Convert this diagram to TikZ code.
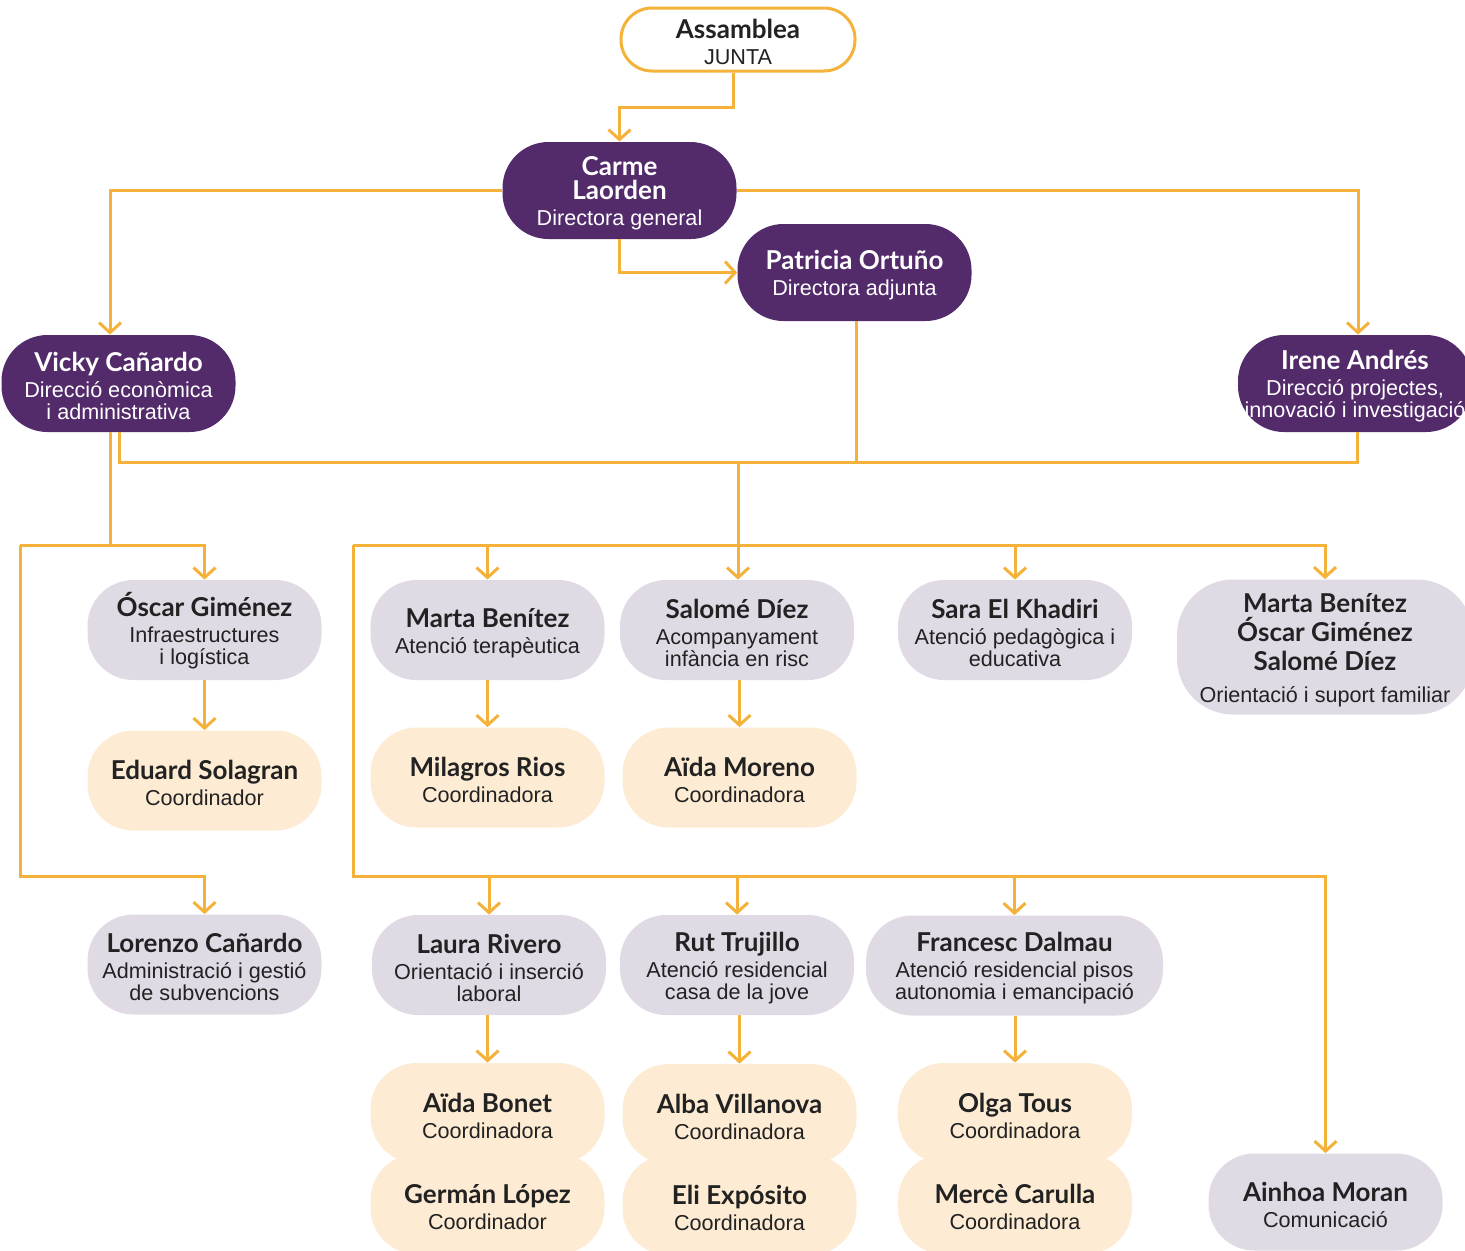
\documentclass[tikz,border=0pt]{standalone}
\usepackage{fontspec}
\setmainfont{Liberation Sans}
\newfontfamily\namefont{Lato}
\usetikzlibrary{arrows.meta}
\usepackage{xcolor}

\definecolor{orgpurple}{HTML}{532B6B}
\definecolor{orgline}{HTML}{F4B23A}
\definecolor{orglilac}{HTML}{E0DAE5}
\definecolor{orgcream}{HTML}{FDEBD3}
\definecolor{orgink}{HTML}{222222}

\newcommand{\nm}{\namefont\bfseries\fontsize{13}{12}\selectfont\rule{0pt}{12.5pt}}
\newcommand{\rl}{\rmfamily\mdseries\fontsize{10.8}{11}\selectfont}
\newcommand{\boxfont}{\rl\lineskiplimit=-20pt\relax}
\newcommand{\who}[2]{\nm #1\\[2pt]\rl #2}

\tikzset{
  pill/.style={rectangle, rounded corners=23pt, align=center, inner sep=0pt,
    minimum width=117pt, minimum height=50pt, font=\boxfont},
  lead/.style={pill, fill=orgpurple, text=white, minimum height=48.5pt},
  unit/.style={pill, fill=orglilac, text=orgink},
  coordbox/.style={pill, fill=orgcream, text=orgink},
  board/.style={pill, draw=orgline, line width=1.5pt, fill=white, text=orgink,
    minimum height=31.5pt, rounded corners=15.5pt},
  wire/.style={draw=orgline, line width=1.5pt},
  feed/.style={wire, -{Straight Barb[length=5pt,width=11pt]}}
}

\begin{document}
\begin{tikzpicture}[x=0.5pt,y=-0.5pt]
\useasboundingbox (0,0) rectangle (1465,1250);

% top of the chart
\node (assembly)[board] at (738,39.5) {\who{Assamblea}{JUNTA}};
\node (carme)[lead] at (619.5,190.5) {\nm Carme\\[1pt]\nm Laorden\\[2pt]\rl Directora general};
\node (patricia)[lead] at (854.5,272.5) {\who{Patricia Ortuño}{Directora adjunta}};
\node (vicky)[lead] at (118.5,383.5) {\who{Vicky Cañardo}{Direcció econòmica\\\rl i administrativa}};
\node (irene)[lead] at (1355,383.5) {\who{Irene Andrés}{Direcció projectes,\\\rl innovació i investigació}};

% areas
\node (oscar)[unit] at (204.5,630) {\who{Óscar Giménez}{Infraestructures\\\rl i logística}};
\node (eduard)[coordbox] at (204.5,780.5) {\who{Eduard Solagran}{Coordinador}};
\node (lorenzo)[unit] at (204.5,964.5) {\who{Lorenzo Cañardo}{Administració i gestió\\\rl de subvencions}};
\node (marta)[unit] at (487.5,630) {\who{Marta Benítez}{Atenció terapèutica}};
\node (milagros)[coordbox] at (487.5,777.5) {\who{Milagros Rios}{Coordinadora}};
\node (salome)[unit] at (737,630) {\who{Salomé Díez}{Acompanyament\\\rl infància en risc}};
\node (aidam)[coordbox] at (739.5,777.5) {\who{Aïda Moreno}{Coordinadora}};
\node (sara)[unit] at (1015,630) {\who{Sara El Khadiri}{Atenció pedagògica i\\\rl educativa}};
\node (family)[unit, minimum width=148pt, minimum height=67.5pt, rounded corners=28pt] at (1325,647)
  {\nm Marta Benítez\\[3.5pt]\nm Óscar Giménez\\[3.5pt]\nm Salomé Díez\\[5pt]\rl Orientació i suport familiar};

\node (laura)[unit] at (489,965) {\who{Laura Rivero}{Orientació i inserció\\\rl laboral}};
\node (rut)[unit] at (737,965) {\who{Rut Trujillo}{Atenció residencial\\\rl casa de la jove}};
\node (francesc)[unit, minimum width=148.5pt] at (1014.5,965.5) {\who{Francesc Dalmau}{Atenció residencial pisos\\\rl autonomia i emancipació}};
\node (aidab)[coordbox] at (487.5,1113) {\who{Aïda Bonet}{Coordinadora}};
\node (german)[coordbox] at (487.5,1204) {\who{Germán López}{Coordinador}};
\node (alba)[coordbox] at (739.5,1114) {\who{Alba Villanova}{Coordinadora}};
\node (eli)[coordbox] at (739.5,1205) {\who{Eli Expósito}{Coordinadora}};
\node (olga)[coordbox] at (1015,1113) {\who{Olga Tous}{Coordinadora}};
\node (merce)[coordbox] at (1015,1204) {\who{Mercè Carulla}{Coordinadora}};
\node (ainhoa)[unit, minimum height=48.5pt] at (1325.5,1202) {\who{Ainhoa Moran}{Comunicació}};

% junctions
\coordinate (busTop) at (738,462);
\coordinate (leftRail) at (20,545);
\coordinate (leftFoot) at (20,876);
\coordinate (midRail) at (353,545);
\coordinate (midFoot) at (353,876);

% direction
\draw[feed] ([xshift=-2.5pt]assembly.south) -- ++(0,35) -| (carme.north);
\draw[feed] (carme.south) |- (patricia.west);
\draw[feed] (carme.west) -| ([xshift=-4.25pt]vicky.north);
\draw[feed] (carme.east) -| ([xshift=1.5pt]irene.north);

% main bus
\draw[wire] ([xshift=0.25pt]vicky.south) |- ([xshift=1pt]irene.south |- busTop) -- ([xshift=1pt]irene.south);
\draw[wire] ([xshift=0.75pt]patricia.south) -- ([xshift=0.75pt]patricia.south |- busTop);
\draw[feed] (busTop) -- (busTop |- salome.north);

% left branch
\draw[wire] ([xshift=-4.25pt]vicky.south) -- ([xshift=-4.25pt]vicky.south |- leftRail);
\draw[feed] (leftRail) -| (oscar.north);
\draw[feed] (leftRail) |- (lorenzo.north |- leftFoot) -- (lorenzo.north);
\draw[feed] (oscar) -- (eduard);

% right branch
\draw[feed] (midRail) -| (family.north);
\foreach \n in {marta,sara}
\draw[feed] (midRail -| \n.north) -- (\n.north);
\draw[feed] (midRail) -- (midFoot) -| (ainhoa.north);
\foreach \n in {laura,rut,francesc}
\draw[feed] (midFoot -| \n.north) -- (\n.north);

% coordinators
\foreach \a/\b in {marta/milagros,salome/aidam,laura/aidab,rut/alba,francesc/olga}
\draw[feed] (\a.south -| \b.north) -- (\b.north);
\end{tikzpicture}
\end{document}
